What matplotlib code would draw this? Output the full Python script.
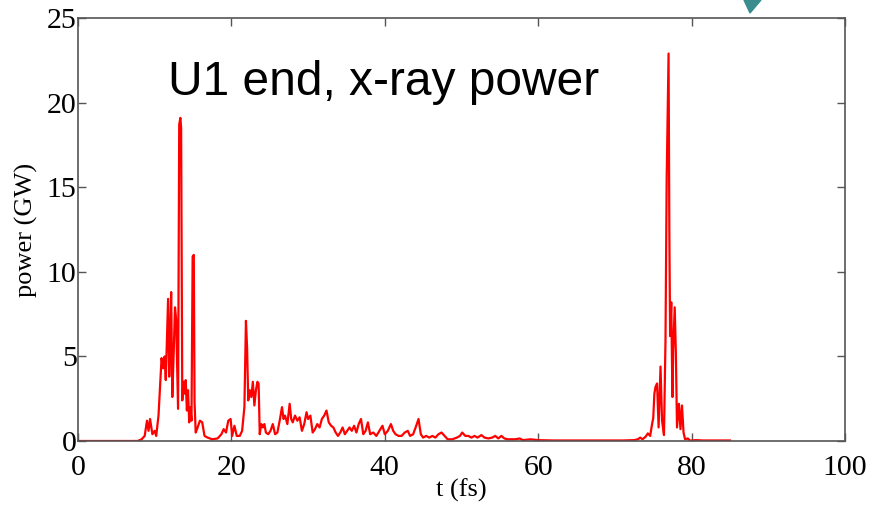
import matplotlib
matplotlib.use('Agg')
import matplotlib.pyplot as plt
from matplotlib.patches import Polygon

# time (fs) and x-ray power (GW)
t_fs = [0, 7.8, 8.3, 8.7, 9.0, 9.2, 9.4, 9.7, 10.0, 10.2, 10.5, 10.7, 10.9, 11.1, 11.3,
        11.45, 11.6, 11.75, 11.9, 12.05, 12.15, 12.3, 12.5, 12.65, 12.8, 12.95, 13.05,
        13.2, 13.35, 13.45, 13.6, 13.75, 13.9, 14.05, 14.2, 14.35, 14.5, 14.65, 14.8,
        14.95, 15.1, 15.2, 15.35, 15.6, 15.9, 16.2, 16.5, 16.9, 17.5, 18.2, 18.7, 19.0,
        19.3, 19.6, 19.9, 20.1, 20.4, 20.7, 21.1, 21.4, 21.7, 21.9, 22.05, 22.2, 22.4,
        22.6, 22.8, 23.0, 23.2, 23.4, 23.55, 23.7, 23.9, 24.1, 24.3, 24.5, 24.8, 25.1,
        25.4, 25.7, 26.0, 26.3, 26.6, 26.8, 27.0, 27.3, 27.6, 27.8, 28.0, 28.3, 28.6,
        28.9, 29.2, 29.5, 29.8, 30.0, 30.3, 30.6, 30.9, 31.2, 31.5, 31.8, 32.1, 32.4,
        32.7, 33.0, 33.3, 33.6, 33.9, 34.2, 34.5, 34.8, 35.1, 35.4, 35.7, 36.0, 36.3,
        36.6, 36.9, 37.2, 37.5, 37.8, 38.1, 38.5, 38.9, 39.3, 39.7, 40.0, 40.4, 40.8,
        41.1, 41.4, 41.8, 42.2, 42.6, 43.0, 43.3, 43.7, 44.1, 44.4, 44.7, 45.0, 45.4,
        45.8, 46.2, 46.6, 47.0, 47.4, 47.8, 48.2, 48.8, 49.4, 49.8, 50.1, 50.5, 50.9,
        51.3, 51.7, 52.1, 52.6, 53.0, 53.5, 54.0, 54.4, 54.8, 55.2, 55.6, 56.0, 57.0,
        57.6, 58.0, 59.0, 60.0, 62.0, 65.0, 68.0, 71.0, 72.5, 73.0, 73.3, 73.6, 74.0,
        74.3, 74.6, 74.85, 75.0, 75.15, 75.3, 75.5, 75.7, 75.95, 76.15, 76.4, 76.6,
        76.75, 76.9, 77.0, 77.1, 77.2, 77.35, 77.5, 77.6, 77.8, 77.95, 78.1, 78.35,
        78.55, 78.75, 78.95, 79.15, 79.5, 79.8, 80.5, 81.5, 85.0]
power_gw = [0.0, 0.0, 0.1, 0.3, 1.2, 0.6, 1.3, 0.4, 0.6, 0.3, 1.5, 3.2, 4.9, 4.3, 5.0,
            3.6, 6.0, 8.4, 3.8, 6.5, 8.8, 2.6, 5.5, 7.9, 7.2, 4.0, 1.9,
            18.7, 19.1, 18.5, 2.4, 3.5, 2.8, 3.6, 1.8, 3.0, 1.1, 2.0, 1.2,
            10.9, 11.0, 2.3, 0.5, 0.8, 1.2, 1.1, 0.3, 0.2, 0.1, 0.15, 0.4, 0.7,
            0.5, 1.2, 1.3, 0.3, 0.9, 0.3, 0.3, 0.6, 2.0, 7.1, 5.5, 2.4, 3.0,
            2.6, 3.5, 2.1, 3.0, 3.5, 3.4, 0.4, 1.0, 0.8, 1.0, 0.5, 0.4, 0.6,
            1.0, 0.4, 0.5, 1.2, 2.0, 1.3, 1.5, 1.0, 2.2, 1.3, 1.1, 1.5, 1.2,
            1.4, 0.6, 1.0, 1.7, 1.3, 1.5, 0.5, 0.7, 1.0, 0.8, 1.3, 1.5, 1.8,
            1.1, 0.9, 0.8, 0.5, 0.3, 0.5, 0.8, 0.4, 0.6, 0.8, 0.6, 0.9, 0.5,
            1.0, 1.3, 0.4, 0.6, 1.1, 0.4, 0.5, 0.3, 0.6, 0.9, 0.4, 0.6, 1.0,
            0.6, 0.4, 0.3, 0.3, 0.5, 0.6, 0.3, 0.4, 0.9, 1.3, 0.4, 0.2, 0.3,
            0.2, 0.3, 0.2, 0.4, 0.5, 0.3, 0.1, 0.1, 0.2, 0.3, 0.5, 0.3, 0.3,
            0.2, 0.3, 0.2, 0.35, 0.2, 0.15, 0.2, 0.3, 0.15, 0.3, 0.15, 0.1, 0.1,
            0.15, 0.05, 0.1, 0.05, 0.03, 0.03, 0.03, 0.03, 0.05, 0.1, 0.2, 0.1, 0.25,
            0.45, 0.3, 1.0, 1.35, 2.8, 3.2, 3.4, 0.8, 4.4, 1.2, 0.35, 6.0,
            15.4, 20.0, 22.9, 12.5, 6.2, 8.2, 2.6, 5.4, 7.9, 5.2, 0.8, 2.2,
            0.7, 2.1, 0.5, 0.1, 0.15, 0.02, 0.05, 0.03, 0.03]

x_ticks = [0, 20, 40, 60, 80, 100]
y_ticks = [0, 5, 10, 15, 20, 25]

fig = plt.figure(figsize=(8.75, 5.12), dpi=100)
ax = fig.add_axes([0.0891, 0.1387, 0.8766, 0.8261])

ax.plot(t_fs, power_gw, color='red', linewidth=1.6)

ax.set_xlim(0, 100)
ax.set_ylim(0, 25)
ax.set_xticks(x_ticks)
ax.set_yticks(y_ticks)
ax.tick_params(direction='in', top=True, right=True, length=6, width=1,
               color='#555555', labelsize=21.5)
ax.tick_params(axis='x', pad=10)
ax.tick_params(axis='y', pad=1)
for lab in ax.get_xticklabels() + ax.get_yticklabels():
    lab.set_family('Liberation Serif')
for sp in ax.spines.values():
    sp.set_color('#555555')
    sp.set_linewidth(1.2)

ax.set_xlabel('t (fs)', family='Liberation Serif', fontsize=19, labelpad=-2)
ax.set_ylabel('power (GW)', family='Liberation Serif', fontsize=19, labelpad=6)

ax.text(0.117, 0.818, 'U1 end, x-ray power', transform=ax.transAxes,
        family='Liberation Sans', fontsize=34.5, color='black')

# teal arrow tip sticking in at the top
tri = Polygon([(744 / 875, 1.0), (761 / 875, 1.0), (750 / 875, 1 - 13 / 512)],
              closed=True, color='#3a8c8f', transform=fig.transFigure)
fig.patches.append(tri)

fig.savefig('out.png', dpi=100)
